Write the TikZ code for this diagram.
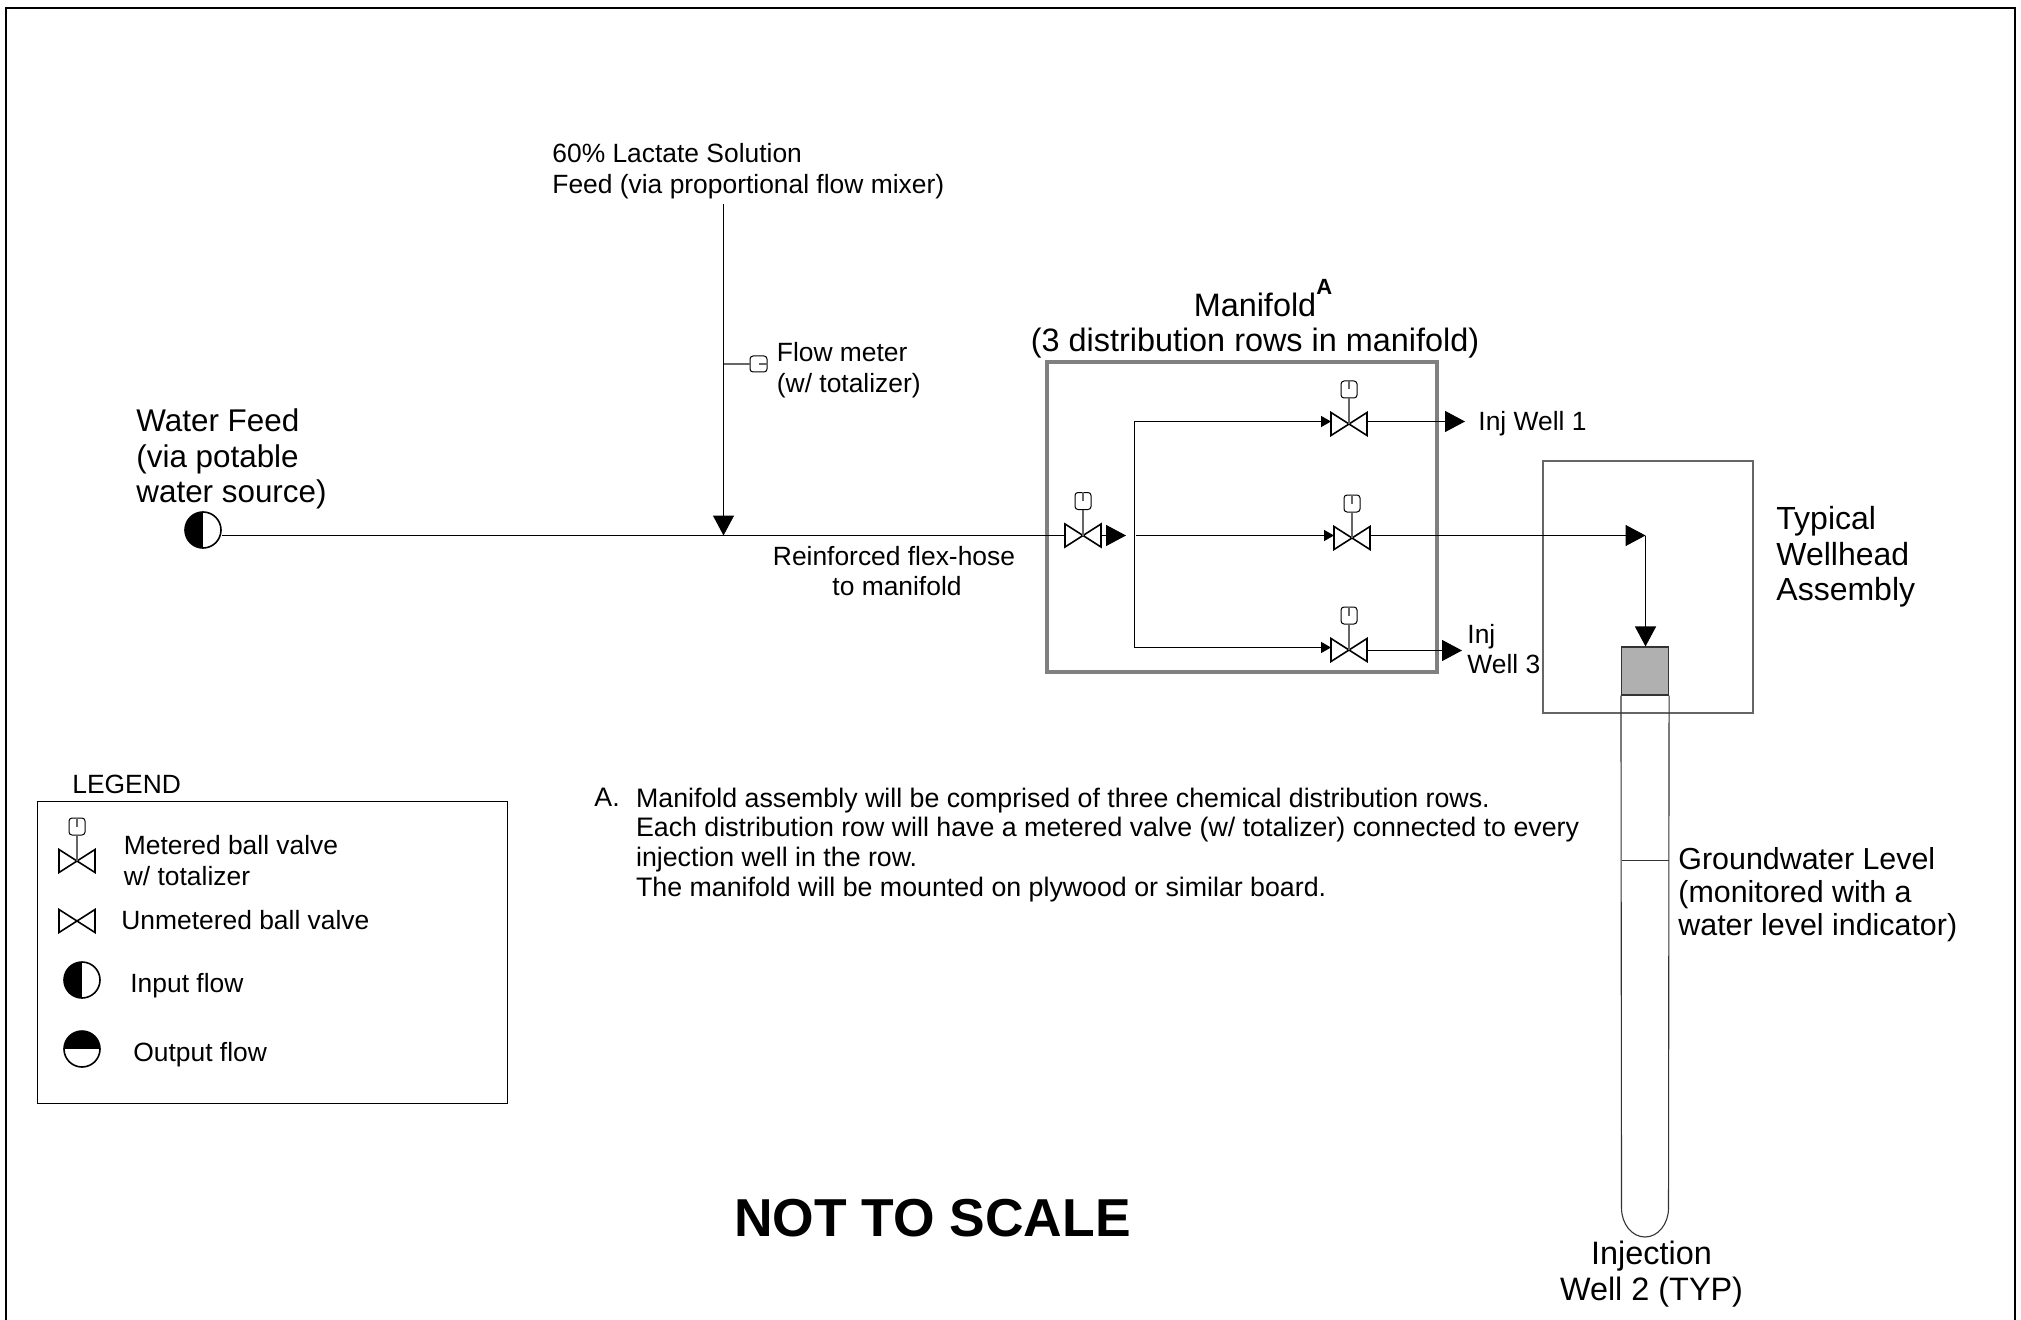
\documentclass[tikz,border=0pt]{standalone}
\usepackage{fontspec}
\setmainfont{Liberation Sans}
\usetikzlibrary{positioning, arrows.meta}
\colorlet{mygray}{black!50}
\colorlet{myline}{black!60}
\colorlet{mywell}{black!80}
\colorlet{myfill}{black!31}
\tikzset{
  pipe/.style={line width=0.65pt,black},
  pipe thin/.style={line width=0.55pt,myline},
  pipe well/.style={line width=0.55pt,mywell},
  pipe arrow/.style={pipe,-{Triangle[length=10pt,width=10.5pt]}},
  pipe small/.style={pipe,-{Triangle[length=5pt,width=5.5pt]}},
  meter/.style={draw,line width=0.5pt,rounded corners=1.5pt,inner sep=0,minimum width=8pt,minimum height=8.5pt},
  txt/.style={font=\fontsize{13.2}{15.25}\selectfont,inner sep=0,align=left,anchor=west},
  txt big/.style={font=\fontsize{16}{17.75}\selectfont,inner sep=0,align=left,anchor=west},
  flow/.style={circle,draw,line width=0.8pt,inner sep=0,minimum size=18pt},
  flow in/.style={flow,path picture={\fill (path picture bounding box.south) rectangle (path picture bounding box.north west);}},
  flow out/.style={flow,path picture={\fill (path picture bounding box.west) rectangle (path picture bounding box.north east);}},
  pics/valve/.style={code={
    \draw[line width=0.8pt] (-18,-11.5) -- (18,11.5) -- (18,-11.5) -- (-18,11.5) -- cycle;
    \coordinate (-in) at (-18,0);
    \coordinate (-out) at (18,0);
  }},
  pics/metered valve/.style={code={
    \pic (-v) {valve};
    \coordinate (-in) at (-18,0);
    \coordinate (-out) at (18,0);
    \node[meter] (-m) at (0,-34.5) {};
    \draw[pipe thin] (0,0) -- (-m.south);
    \draw[pipe thin] (-m.north) -- (-m.center);
  }}
}

\begin{document}
\begin{tikzpicture}[x=0.5pt,y=-0.5pt]

  \useasboundingbox (0,0) rectangle (2021,1320);
  \draw[line width=1pt] (6,1325) -- (6,8) -- (2015,8) -- (2015,1325);

  % feed side
  \node[flow in] (wf) at (203,530) {};
  \node[txt big,font=\fontsize{15.7}{17.75}\selectfont,anchor=north west] (wflabel) at (136,408.5) {Water Feed\\(via potable\\water source)};
  \node[txt] (lactate) at (552,171) {60\% Lactate Solution\\Feed (via proportional flow mixer)};
  \coordinate (lf) at (723.5,204);
  \node[meter,minimum width=8.5pt,minimum height=8pt] (fm) at (758.5,364) {};
  \node[txt,right=4.5pt of fm.east,yshift=-3pt] (fmlabel) {Flow meter\\(w/ totalizer)};
  \node[txt,align=center,anchor=center] (hose) at (894,571) {Reinforced flex-hose\\\hspace*{3pt}to manifold};

  % manifold
  \node[draw=mygray,line width=1.7pt,minimum width=195pt,minimum height=155pt,inner sep=0] (mf) at (1242,517) {};
  \node[txt big,font=\fontsize{16.2}{17.75}\selectfont,align=center,anchor=center] (mftitle) at (1255,319) {Manifold\rlap{\raisebox{11pt}{\fontsize{11}{11}\selectfont\bfseries A}}\\(3 distribution rows in manifold)};
  \pic (mv) at (1083,535.5) {metered valve};
  \pic (v1) at (1349,424) {metered valve};
  \pic (v2) at (1352,538) {metered valve};
  \pic (v3) at (1349,650) {metered valve};
  \coordinate (mvtip) at (1126,535.5);
  \coordinate (r1) at (1134.5,421.5);
  \coordinate (r2) at (1136,535.5);
  \coordinate (r3) at (1134.5,647.5);
  \coordinate (o1) at (1465,421.5);
  \coordinate (o2) at (1645.5,535.5);
  \coordinate (o3) at (1462,650.5);
  \node[txt] (w1) at (1478,423.5) {Inj Well 1};
  \node[txt] (w3) at (1467,649) {Inj\\Well 3};

  % wellhead and well
  \node[draw,pipe thin,minimum width=105pt,minimum height=126pt,inner sep=0] (wh) at (1648,587) {};
  \node[draw,pipe well,fill=myfill,minimum width=23.5pt,minimum height=24pt,inner sep=0] (cap) at (1645,671) {};
  \node[txt big] (whlabel) at (1776,557) {Typical\\Wellhead\\Assembly};
  \draw[pipe well] (cap.south west) -- (1621.5,1208) arc[x radius=23.5,y radius=29,start angle=180,end angle=0] -- (cap.south east);
  \coordinate (gw) at (1621.5,860.5);
  \draw[pipe well] (gw) -- (gw -| cap.east);
  \node[txt,font=\fontsize{15.2}{16.5}\selectfont] (gwlabel) at (1678,894.5) {Groundwater Level\\(monitored with a\\water level indicator)};
  \node[txt big,font=\fontsize{16.2}{17.75}\selectfont,align=center,anchor=center] (wl) at (1651.5,1274) {Injection\\Well 2 (TYP)};

  % pipes
  \draw[pipe] (wf.east |- mv-in) -- (mv-in);
  \draw[pipe arrow] (lf) -- (lf |- mv-in);
  \draw[pipe thin] (lf |- fm) -- (fm.west);
  \draw[pipe thin] (fm.center) -- (fm.east);
  \draw[pipe arrow] (mv-out) -- (mvtip);
  \draw[pipe] (r1) -- (r3);
  \draw[pipe small] (r1) -- (r1 -| v1-in);
  \draw[pipe small] (r2) -- (r2 -| v2-in);
  \draw[pipe small] (r3) -- (r3 -| v3-in);
  \draw[pipe arrow] (v1-out |- o1) -- (o1);
  \draw[pipe arrow] (v2-out |- o2) -- (o2);
  \draw[pipe arrow] (v3-out |- o3) -- (o3);
  \draw[pipe arrow] (o2) -- (o2 |- cap.north);

  % notes
  \node[txt,anchor=north west,font=\fontsize{13.38}{14.8}\selectfont] (nota) at (594,787.5) {A.};
  \node[txt,font=\fontsize{13.38}{14.8}\selectfont,right=7.8pt of nota.north east,anchor=north west] (notes) {Manifold assembly will be comprised of three chemical distribution rows.\\Each distribution row will have a metered valve (w/ totalizer) connected to every\\injection well in the row.\\The manifold will be mounted on plywood or similar board.};
  \node[anchor=center,inner sep=0,font=\fontsize{26.7}{30}\selectfont\bfseries] (nts) at (932.5,1218) {NOT TO SCALE};

  % legend
  \node[txt] (leg) at (72,784) {LEGEND};
  \node[draw,line width=0.5pt,minimum width=235pt,minimum height=151pt,inner sep=0] (legbox) at (272,952) {};
  \pic (lv1) at (77,861) {metered valve};
  \pic (lv2) at (77,921) {valve};
  \node[flow in] (li) at (82,980) {};
  \node[flow out] (lo) at (82,1049) {};
  \node[txt] (lt1) at (123.5,860.5) {Metered ball valve\\w/ totalizer};
  \node[txt] (lt2) at (121,920) {Unmetered ball valve};
  \node[txt] (lt3) at (130,985.5) {Input flow};
  \node[txt] (lt4) at (133,1054.5) {Output flow};

\end{tikzpicture}
\end{document}
